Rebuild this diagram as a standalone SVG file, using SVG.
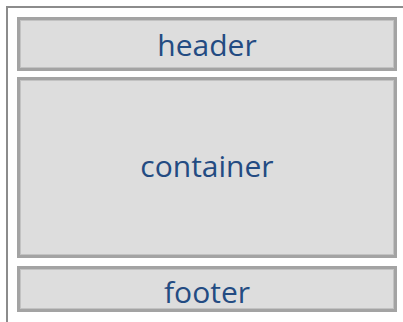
<svg xmlns="http://www.w3.org/2000/svg" width="403" height="322" viewBox="0 0 403 322">
<style>
.box{fill:#dddddd;stroke:#a3a3a3;stroke-width:3}
.inner{fill:none;stroke:#c2c2c2;stroke-width:1}
.lbl{font-family:"Open Sans","Noto Sans",sans-serif;font-size:30px;fill:#234b82;text-anchor:middle}
</style>
<rect x="0" y="0" width="403" height="322" fill="#ffffff"/>
<g id="frame"><rect x="7" y="7" width="410" height="330" fill="none" stroke="#8c8c8c" stroke-width="2"/></g>
<g id="header">
<rect class="box" x="18.5" y="18.5" width="377" height="51"/>
<rect class="inner" x="20.5" y="20.5" width="373" height="47"/>
<text class="lbl" x="207" y="56">header</text>
</g>
<g id="container">
<rect class="box" x="18.5" y="78.5" width="377" height="178"/>
<rect class="inner" x="20.5" y="80.5" width="373" height="174"/>
<text class="lbl" x="207" y="177">container</text>
</g>
<g id="footer">
<rect class="box" x="18.5" y="267.5" width="377" height="43"/>
<rect class="inner" x="20.5" y="269.5" width="373" height="39"/>
<text class="lbl" x="207" y="303">footer</text>
</g>
<g id="connectors"></g>
</svg>
